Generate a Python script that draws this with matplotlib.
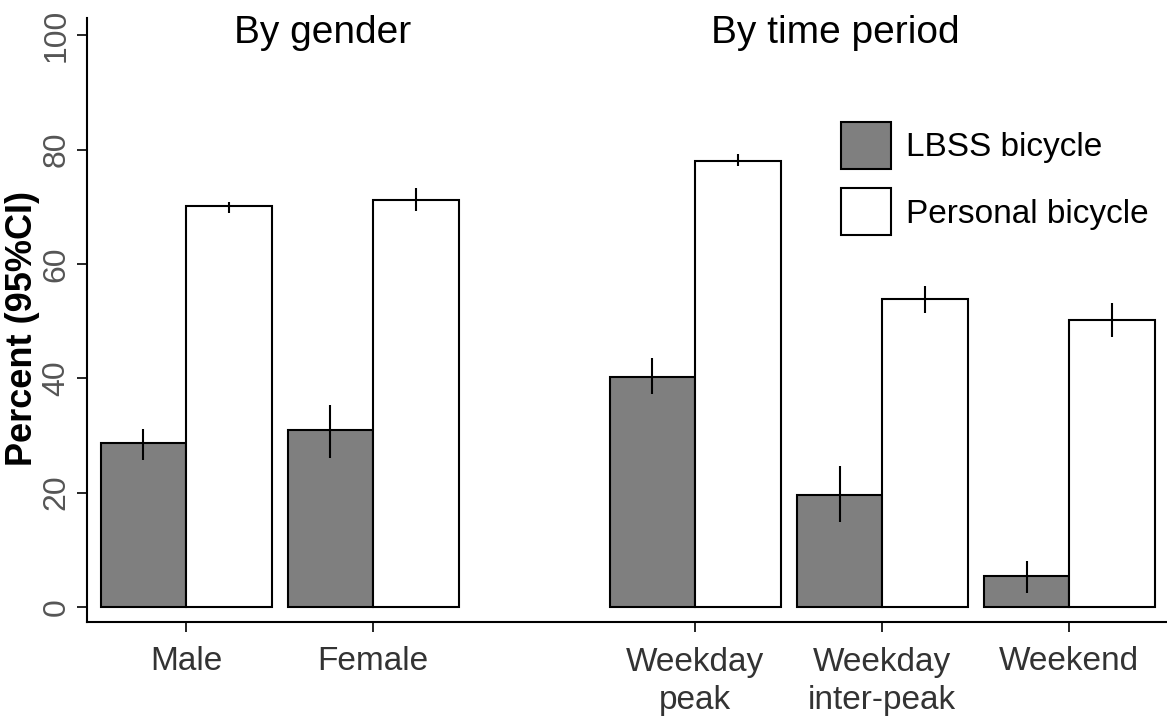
import matplotlib
matplotlib.use('Agg')
import matplotlib.pyplot as plt
import numpy as np

# ---- data ----
groups = ['Male', 'Female', 'Weekday\npeak', 'Weekday\ninter-peak', 'Weekend']
series = ['LBSS bicycle', 'Personal bicycle']
lbss = [28.6, 30.9, 40.3, 19.6, 5.4]
lbss_lo = [25.7, 26.1, 37.2, 14.8, 2.5]
lbss_hi = [31.1, 35.4, 43.6, 24.7, 8.1]
personal = [70.1, 71.2, 78.0, 53.8, 50.2]
personal_lo = [68.9, 69.2, 77.2, 51.4, 47.2]
personal_hi = [70.9, 73.2, 79.2, 56.1, 53.2]
panel_titles = ['By gender', 'By time period']
yticks = [0, 20, 40, 60, 80, 100]

# ---- layout ----
FONT = ['Liberation Sans', 'DejaVu Sans']
plt.rcParams['font.family'] = FONT

fig = plt.figure(figsize=(11.67, 7.21), dpi=100, facecolor='white')
ax = fig.add_axes([87 / 1167, (721 - 621.5) / 721, 1 - 87 / 1167, (621.5 - 18) / 721])

pitch = 2.187
extra_gap = 1.58
idx = np.arange(len(groups))
centers = idx * pitch + np.where(idx >= 2, extra_gap, 0.0)
width = 1.0

lb = np.array(lbss)
pe = np.array(personal)
err_lb = [lb - np.array(lbss_lo), np.array(lbss_hi) - lb]
err_pe = [pe - np.array(personal_lo), np.array(personal_hi) - pe]

ax.bar(centers - width / 2, lb, width=width, color='#7f7f7f', edgecolor='black',
       linewidth=1.5, label=series[0], zorder=2)
ax.bar(centers + width / 2, pe, width=width, color='white', edgecolor='black',
       linewidth=1.5, label=series[1], zorder=2)
ax.errorbar(centers - width / 2, lb, yerr=err_lb, fmt='none', ecolor='black',
            elinewidth=1.5, capsize=0, zorder=3)
ax.errorbar(centers + width / 2, pe, yerr=err_pe, fmt='none', ecolor='black',
            elinewidth=1.5, capsize=0, zorder=3)

ax.set_xlim(-1.158, 11.47)
ax.set_ylim(-2.53, 103.0)

for s in ['top', 'right']:
    ax.spines[s].set_visible(False)
for s in ['left', 'bottom']:
    ax.spines[s].set_linewidth(1.5)

ax.set_yticks(yticks)
ax.set_yticklabels([str(v) for v in yticks], rotation=90, va='center',
                   fontsize=23, color='#555555')
ax.tick_params(axis='y', length=7, width=1.2, pad=4)

ax.set_xticks(centers)
ax.set_xticklabels(groups, fontsize=24, color='#333333', linespacing=1.3)
ax.tick_params(axis='x', length=7, width=1.2, pad=11)

ax.set_ylabel('Percent (95%CI)', fontsize=26, fontweight='bold')
ax.yaxis.set_label_coords((40 - 87) / (1167 - 87), (621.5 - 328) / 603.5)

title_x = [(centers[0] + centers[1]) / 2 + 0.5, (centers[2] + centers[4]) / 2 - 0.55]
for t, x in zip(panel_titles, title_x):
    ax.text(x, 98.6, t, fontsize=28, ha='center', va='baseline', color='black')

fig.legend(loc='upper left', bbox_to_anchor=(841 / 1167, (721 - 122) / 721),
           frameon=False, fontsize=24, handlelength=1.5, handleheight=1.8,
           labelspacing=0.57, handletextpad=0.45, borderpad=0, borderaxespad=0)

fig.savefig('out.png', dpi=100, facecolor='white')
